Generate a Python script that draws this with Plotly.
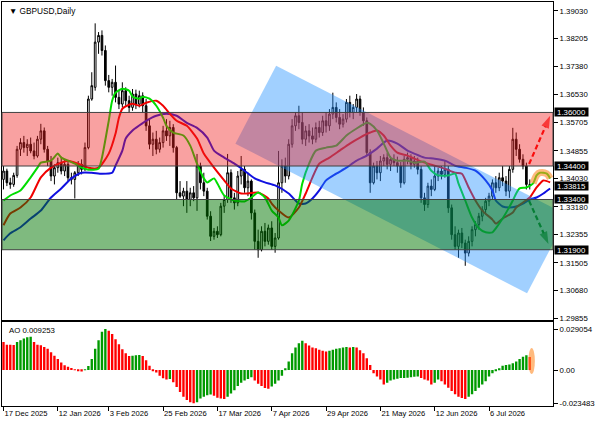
import plotly.graph_objects as go

# ---------------- data ----------------
opens = [1.3400,1.3425,1.3390,1.3385,1.3412,1.3490,1.3510,1.3495,1.3505,1.3485,
         1.3470,1.3520,1.3545,1.3490,1.3455,1.3410,1.3435,1.3450,1.3425,1.3445,
         1.3405,1.3400,1.3420,1.3445,1.3430,1.3495,1.3640,1.3675,1.3810,1.3830,
         1.3785,1.3695,1.3675,1.3690,1.3645,1.3625,1.3665,1.3635,1.3615,1.3655,
         1.3625,1.3650,1.3620,1.3560,1.3505,1.3520,1.3490,1.3510,1.3545,1.3530,
         1.3555,1.3495,1.3360,1.3350,1.3365,1.3340,1.3360,1.3345,1.3440,1.3390,
         1.3365,1.3290,1.3230,1.3245,1.3235,1.3320,1.3340,1.3420,1.3345,1.3330,
         1.3410,1.3430,1.3375,1.3395,1.3300,1.3215,1.3190,1.3245,1.3215,1.3255,
         1.3200,1.3225,1.3390,1.3440,1.3410,1.3505,1.3560,1.3590,1.3570,1.3520,
         1.3545,1.3530,1.3520,1.3555,1.3540,1.3575,1.3560,1.3595,1.3615,1.3585,
         1.3565,1.3580,1.3630,1.3600,1.3615,1.3640,1.3600,1.3575,1.3480,1.3390,
         1.3440,1.3420,1.3455,1.3465,1.3445,1.3460,1.3450,1.3440,1.3390,1.3460,
         1.3465,1.3445,1.3455,1.3430,1.3345,1.3325,1.3380,1.3370,1.3410,1.3425,
         1.3415,1.3430,1.3315,1.3235,1.3200,1.3240,1.3210,1.3180,1.3215,1.3250,
         1.3265,1.3290,1.3310,1.3335,1.3350,1.3390,1.3375,1.3405,1.3395,1.3365,
         1.3430,1.3520,1.3490,1.3460,1.3440,1.3385]
highs = [1.3440,1.3432,1.3405,1.3420,1.3500,1.3523,1.3530,1.3520,1.3525,1.3510,
         1.3530,1.3566,1.3555,1.3500,1.3470,1.3445,1.3465,1.3468,1.3460,1.3455,
         1.3420,1.3425,1.3455,1.3460,1.3510,1.3650,1.3720,1.3866,1.3840,1.3845,
         1.3800,1.3712,1.3700,1.3740,1.3665,1.3690,1.3675,1.3650,1.3670,1.3668,
         1.3665,1.3660,1.3640,1.3580,1.3540,1.3545,1.3525,1.3560,1.3580,1.3575,
         1.3565,1.3500,1.3395,1.3375,1.3395,1.3375,1.3380,1.3476,1.3450,1.3420,
         1.3375,1.3305,1.3255,1.3260,1.3330,1.3350,1.3476,1.3430,1.3360,1.3425,
         1.3470,1.3440,1.3420,1.3400,1.3310,1.3250,1.3260,1.3270,1.3265,1.3275,
         1.3240,1.3485,1.3460,1.3465,1.3520,1.3580,1.3600,1.3620,1.3600,1.3560,
         1.3565,1.3555,1.3570,1.3575,1.3590,1.3600,1.3610,1.3659,1.3630,1.3610,
         1.3595,1.3640,1.3650,1.3625,1.3655,1.3650,1.3615,1.3585,1.3490,1.3450,
         1.3455,1.3470,1.3475,1.3480,1.3470,1.3475,1.3468,1.3452,1.3470,1.3480,
         1.3475,1.3470,1.3465,1.3440,1.3360,1.3390,1.3400,1.3440,1.3435,1.3440,
         1.3455,1.3440,1.3325,1.3260,1.3250,1.3255,1.3220,1.3230,1.3260,1.3275,
         1.3300,1.3320,1.3345,1.3360,1.3400,1.3410,1.3420,1.3440,1.3410,1.3440,
         1.3554,1.3540,1.3505,1.3475,1.3450,1.3400]
lows = [1.3370,1.3380,1.3372,1.3378,1.3405,1.3470,1.3480,1.3470,1.3478,1.3460,
        1.3465,1.3505,1.3480,1.3440,1.3395,1.3385,1.3420,1.3415,1.3410,1.3395,
        1.3385,1.3343,1.3410,1.3415,1.3425,1.3490,1.3635,1.3665,1.3775,1.3770,
        1.3680,1.3660,1.3650,1.3630,1.3610,1.3615,1.3620,1.3600,1.3605,1.3610,
        1.3615,1.3600,1.3545,1.3490,1.3470,1.3475,1.3480,1.3495,1.3515,1.3500,
        1.3480,1.3340,1.3345,1.3320,1.3300,1.3320,1.3335,1.3306,1.3370,1.3350,
        1.3280,1.3216,1.3220,1.3225,1.3230,1.3300,1.3330,1.3330,1.3310,1.3320,
        1.3385,1.3360,1.3350,1.3280,1.3190,1.3166,1.3185,1.3200,1.3205,1.3190,
        1.3181,1.3220,1.3360,1.3390,1.3400,1.3495,1.3545,1.3550,1.3505,1.3500,
        1.3510,1.3505,1.3510,1.3525,1.3530,1.3540,1.3545,1.3580,1.3570,1.3550,
        1.3555,1.3570,1.3585,1.3580,1.3600,1.3590,1.3560,1.3470,1.3360,1.3385,
        1.3400,1.3395,1.3440,1.3430,1.3425,1.3440,1.3420,1.3375,1.3385,1.3445,
        1.3430,1.3435,1.3415,1.3330,1.3306,1.3315,1.3350,1.3365,1.3395,1.3400,
        1.3405,1.3300,1.3220,1.3190,1.3166,1.3195,1.3142,1.3170,1.3200,1.3230,
        1.3250,1.3275,1.3295,1.3320,1.3340,1.3360,1.3365,1.3380,1.3350,1.3345,
        1.3420,1.3470,1.3450,1.3430,1.3370,1.3370]
closes = [1.3425,1.3390,1.3385,1.3412,1.3490,1.3510,1.3495,1.3505,1.3485,1.3470,
          1.3520,1.3545,1.3490,1.3455,1.3410,1.3435,1.3450,1.3425,1.3445,1.3405,
          1.3400,1.3420,1.3445,1.3430,1.3495,1.3640,1.3680,1.3810,1.3830,1.3785,
          1.3695,1.3675,1.3690,1.3645,1.3625,1.3665,1.3635,1.3615,1.3655,1.3625,
          1.3650,1.3620,1.3560,1.3505,1.3520,1.3490,1.3510,1.3545,1.3530,1.3555,
          1.3495,1.3360,1.3350,1.3365,1.3340,1.3360,1.3345,1.3440,1.3390,1.3365,
          1.3290,1.3230,1.3245,1.3235,1.3320,1.3340,1.3420,1.3345,1.3330,1.3410,
          1.3430,1.3375,1.3395,1.3300,1.3215,1.3190,1.3245,1.3215,1.3255,1.3200,
          1.3225,1.3390,1.3440,1.3410,1.3505,1.3560,1.3590,1.3570,1.3520,1.3545,
          1.3530,1.3520,1.3555,1.3540,1.3575,1.3560,1.3595,1.3615,1.3585,1.3565,
          1.3580,1.3630,1.3600,1.3615,1.3640,1.3600,1.3575,1.3480,1.3390,1.3440,
          1.3420,1.3455,1.3465,1.3445,1.3460,1.3450,1.3440,1.3390,1.3460,1.3465,
          1.3445,1.3455,1.3430,1.3345,1.3325,1.3380,1.3370,1.3410,1.3425,1.3415,
          1.3430,1.3315,1.3235,1.3200,1.3240,1.3210,1.3180,1.3215,1.3250,1.3265,
          1.3290,1.3310,1.3335,1.3350,1.3390,1.3375,1.3405,1.3395,1.3365,1.3430,
          1.3520,1.3490,1.3460,1.3440,1.3385,1.33815]

# Alligator lines: bar position / price
jaw_x = [0,2,5,8,11,14,17,20,23,26,29,32,33,35,36,38,39,42,45,48,51,54,57,60,62,65,68,71,74,77,
         80,84,87,89,91,93,95,98,101,104,107,110,113,116,119,121,124,127,130,133,136,139,142,144,145,
         147,149,151,153,155,157,159,161]
jaw_y = [1.3218,1.3239,1.3257,1.3283,1.3307,1.3346,1.3373,1.3403,1.3420,1.3420,1.3417,1.3420,1.3441,
         1.3486,1.3522,1.3546,1.3554,1.3575,1.3590,1.3596,1.3590,1.3569,1.3554,1.3525,1.3486,1.3465,
         1.3447,1.3426,1.3403,1.3391,1.3382,1.3358,1.3328,1.3328,1.3343,1.3367,1.3397,1.3417,1.3435,
         1.3456,1.3471,1.3492,1.3516,1.3507,1.3486,1.3477,1.3465,1.3462,1.3456,1.3441,1.3435,1.3426,
         1.3397,1.3367,1.3337,1.3319,1.3316,1.3319,1.3328,1.3340,1.3346,1.3358,1.3373]
teeth_x = [0,2,5,8,11,14,17,19,22,25,28,31,33,34,35,37,38,40,42,45,47,49,51,54,57,59,62,65,67,70,
           72,75,78,79,81,84,87,89,91,93,96,99,102,105,108,110,112,114,116,119,121,124,127,130,133,
           135,137,139,141,144,145,147,150,151,153,155,157,159,161]
teeth_y = [1.3263,1.3298,1.3316,1.3346,1.3406,1.3435,1.3450,1.3456,1.3447,1.3435,1.3435,1.3477,1.3537,
           1.3584,1.3611,1.3623,1.3626,1.3620,1.3629,1.3635,1.3620,1.3596,1.3575,1.3560,1.3522,1.3477,
           1.3435,1.3397,1.3373,1.3358,1.3358,1.3361,1.3343,1.3328,1.3307,1.3286,1.3316,1.3358,1.3406,
           1.3447,1.3465,1.3486,1.3507,1.3525,1.3540,1.3546,1.3531,1.3501,1.3480,1.3471,1.3462,1.3450,
           1.3441,1.3432,1.3420,1.3417,1.3376,1.3337,1.3307,1.3280,1.3268,1.3283,1.3301,1.3316,1.3331,
           1.3346,1.3376,1.3397,1.3391]
lips_x = [0,2,5,8,10,11,14,16,17,19,21,23,25,28,29,31,32,33,35,37,38,40,41,43,45,47,48,50,53,55,
          57,59,60,62,63,65,68,71,73,75,77,79,81,82,84,87,88,90,92,95,98,101,104,107,108,110,112,114,
          116,119,121,124,126,128,131,133,134,136,138,140,142,144,145,147,150,151,152,154,156,157,158,
          160,161]
lips_y = [1.3337,1.3352,1.3367,1.3406,1.3435,1.3450,1.3456,1.3477,1.3465,1.3456,1.3447,1.3435,1.3429,
          1.3432,1.3465,1.3575,1.3635,1.3659,1.3671,1.3665,1.3647,1.3641,1.3647,1.3641,1.3620,1.3584,
          1.3560,1.3540,1.3531,1.3501,1.3447,1.3403,1.3391,1.3403,1.3388,1.3352,1.3337,1.3334,1.3346,
          1.3361,1.3346,1.3307,1.3286,1.3263,1.3277,1.3337,1.3388,1.3447,1.3486,1.3495,1.3501,1.3531,
          1.3552,1.3569,1.3566,1.3546,1.3507,1.3465,1.3456,1.3456,1.3450,1.3453,1.3426,1.3412,1.3412,
          1.3417,1.3388,1.3337,1.3286,1.3254,1.3242,1.3242,1.3254,1.3283,1.3337,1.3358,1.3373,1.3376,
          1.3388,1.3412,1.3420,1.3417,1.3403]

ao = [0.0199,0.0180,0.0179,0.0178,0.0199,0.0211,0.0224,0.0233,0.0236,0.0199,
      0.0180,0.0175,0.0163,0.0151,0.0126,0.0102,0.0078,0.0053,0.0034,0.0024,
      0.0015,0.0005,-0.0002,-0.0010,0.0005,0.0029,0.0078,0.0151,0.0211,0.0272,
      0.02905,0.0278,0.0255,0.0219,0.0183,0.0148,0.0119,0.0100,0.0102,0.0105,
      0.0107,0.0100,0.0070,0.0030,-0.0005,-0.0018,-0.0041,-0.0059,-0.0068,-0.0064,
      -0.0087,-0.0121,-0.0155,-0.0189,-0.0212,-0.0228,-0.02348,-0.0228,-0.0201,-0.0189,
      -0.0178,-0.0173,-0.0182,-0.0196,-0.0201,-0.0205,-0.0189,-0.0166,-0.0144,-0.0114,
      -0.0091,-0.0075,-0.0064,-0.0052,-0.0075,-0.0098,-0.0114,-0.0128,-0.0132,-0.0116,
      -0.0098,-0.0075,-0.0040,0.0012,0.0060,0.0119,0.0160,0.0190,0.0207,0.0190,
      0.0174,0.0159,0.0155,0.0143,0.0136,0.0131,0.0136,0.0143,0.0150,0.0155,
      0.0159,0.0164,0.0160,0.0163,0.0160,0.0140,0.0119,0.0083,0.0036,-0.0023,
      -0.0046,-0.0068,-0.0103,-0.0091,-0.0075,-0.0068,-0.0062,-0.0057,-0.0056,-0.0055,
      -0.0052,-0.0048,-0.0046,-0.0057,-0.0068,-0.0075,-0.0103,-0.0091,-0.0068,-0.0080,
      -0.0103,-0.0125,-0.0148,-0.0171,-0.0189,-0.0198,-0.0205,-0.0189,-0.0171,-0.0148,
      -0.0125,-0.0103,-0.0080,-0.0046,-0.0023,-0.0007,0.0012,0.0031,0.0036,0.0040,
      0.0048,0.0060,0.0079,0.0095,0.0105,0.009253]

price_ticks = [1.39030,1.38205,1.37380,1.36530,1.35705,1.34855,1.34030,1.33180,1.32355,1.31505,1.30680,1.29855]
price_tick_text = ["1.39030","1.38205","1.37380","1.36530","1.35705","1.34855","1.34030","1.33180",
                   "1.32355","1.31505","1.30680","1.29855"]
level_values = [1.36000, 1.34400, 1.33815, 1.33400, 1.31900]
level_text = ["1.36000", "1.34400", "1.33815", "1.33400", "1.31900"]
ao_ticks = [0.029054, 0.0, -0.023483]
ao_tick_text = ["0.029054", "0.00", "-0.023483"]
date_bars = [0, 16, 31, 47, 63, 79, 95, 111, 127, 143]
date_labels = ["17 Dec 2025", "12 Jan 2026", "3 Feb 2026", "25 Feb 2026", "17 Mar 2026",
               "7 Apr 2026", "29 Apr 2026", "21 May 2026", "12 Jun 2026", "6 Jul 2026"]

# ---------------- figure ----------------
FONT = "Liberation Sans"
W, H = 596, 425
ML, MR, MT, MB = 2, 39, 1, 19
plot_h = H - MT - MB


def yfrac(py):
    return (H - MB - py) / plot_h


main_dom = [yfrac(319.5), yfrac(1.5)]
ao_dom = [0, yfrac(322)]

bars = list(range(len(closes)))
fig = go.Figure()

fig.add_trace(go.Candlestick(
    x=bars, open=opens, high=highs, low=lows, close=closes,
    increasing=dict(line=dict(color="#000000", width=1), fillcolor="#ffffff"),
    decreasing=dict(line=dict(color="#000000", width=1), fillcolor="#000000"),
    whiskerwidth=0, xaxis="x", yaxis="y", showlegend=False, hoverinfo="skip"))

for xs, ys, col in [(jaw_x, jaw_y, "#1010e0"), (teeth_x, teeth_y, "#f00000"), (lips_x, lips_y, "#00dd00")]:
    fig.add_trace(go.Scatter(x=xs, y=ys, mode="lines", xaxis="x", yaxis="y",
                             line=dict(color=col, width=2, shape="spline", smoothing=0.6),
                             showlegend=False, hoverinfo="skip"))

# orange highlight on the end of the lips line
fig.add_trace(go.Scatter(x=lips_x[-5:], y=lips_y[-5:], mode="lines", xaxis="x", yaxis="y",
                         line=dict(color="rgba(255,140,40,0.6)", width=7, shape="spline"),
                         showlegend=False, hoverinfo="skip"))

# forecast arrows
for (xa, ya, col) in [([154.8, 161.0], [1.3446, 1.3590], "#ff0000"),
                      ([154.8, 160.5], [1.3336, 1.3207], "#008000")]:
    fig.add_trace(go.Scatter(x=xa, y=ya, mode="lines+markers", xaxis="x", yaxis="y",
                             line=dict(color=col, width=2.2, dash="5px,3px"),
                             marker=dict(symbol="arrow", size=[0, 13], angleref="previous", color=col,
                                         line=dict(width=0)),
                             showlegend=False, hoverinfo="skip"))

ao_colors = ["#ff0000"] + ["#009a00" if ao[i] > ao[i - 1] else "#ff0000" for i in range(1, len(ao))]
fig.add_trace(go.Bar(x=bars, y=ao, marker=dict(color=ao_colors, line=dict(width=0)),
                     xaxis="x2", yaxis="y2", showlegend=False, hoverinfo="skip"))

shapes = [
    dict(type="path", xref="x", yref="y", layer="above",
         path="M 68.3,1.35068 L 80.3,1.37392 L 166.2,1.32923 L 154.2,1.30600 Z",
         fillcolor="rgba(30,144,255,0.42)", line=dict(width=0)),
    dict(type="rect", xref="paper", yref="y", x0=0, x1=1, y0=1.344, y1=1.360, layer="above",
         fillcolor="rgba(240,30,30,0.42)", line=dict(color="#404040", width=1)),
    dict(type="rect", xref="paper", yref="y", x0=0, x1=1, y0=1.319, y1=1.334, layer="above",
         fillcolor="rgba(0,118,0,0.5)", line=dict(color="#404040", width=1)),
    dict(type="circle", xref="x2", yref="y2", x0=154.6, x1=156.5, y0=-0.0028, y1=0.0156, layer="above",
         fillcolor="rgba(255,140,40,0.6)", line=dict(width=0)),
]

annotations = [
    dict(xref="paper", yref="paper", x=0, y=1, xanchor="left", yanchor="top", xshift=5, yshift=-2,
         text="▼ GBPUSD,Daily", showarrow=False, font=dict(family=FONT, size=8.3, color="#000000")),
    dict(xref="paper", yref="paper", x=0, y=ao_dom[1], xanchor="left", yanchor="top", xshift=5, yshift=-2,
         text="AO 0.009253", showarrow=False, font=dict(family=FONT, size=7.8, color="#000000")),
]
for v, t in zip(level_values, level_text):
    annotations.append(dict(xref="paper", yref="y", x=1, y=v, xanchor="left", yanchor="middle", xshift=1,
                            text=t, showarrow=False, bgcolor="#000000", width=33, height=8, borderpad=0,
                            font=dict(family=FONT, size=7.8, color="#ffffff")))

axis_common = dict(showline=True, mirror=True, linecolor="#000000", linewidth=1,
                   showgrid=False, zeroline=False)
tick_font = dict(family=FONT, size=7.8, color="#000000")

fig.update_layout(
    width=W, height=H, margin=dict(l=ML, r=MR, t=MT, b=MB),
    paper_bgcolor="#ffffff", plot_bgcolor="#ffffff",
    hovermode=False, bargap=0.3, showlegend=False,
    shapes=shapes, annotations=annotations,
    xaxis=dict(domain=[0, 1], anchor="y", range=[-0.44, 161.84], showticklabels=False, ticks="",
               rangeslider=dict(visible=False), **axis_common),
    yaxis=dict(domain=main_dom, anchor="x", side="right", range=[1.29810, 1.39283],
               tickvals=price_ticks, ticktext=price_tick_text, ticks="outside", ticklen=4,
               tickcolor="#000000", tickfont=tick_font, **axis_common),
    xaxis2=dict(domain=[0, 1], anchor="y2", matches="x", tickvals=date_bars, ticktext=date_labels,
                ticks="outside", ticklen=4, tickcolor="#000000", ticklabelposition="outside right",
                tickfont=dict(family=FONT, size=7.6, color="#000000"), **axis_common),
    yaxis2=dict(domain=ao_dom, anchor="x2", side="right", range=[-0.0255, 0.0339],
                tickvals=ao_ticks, ticktext=ao_tick_text, ticks="outside", ticklen=4,
                tickcolor="#000000", tickfont=tick_font, **axis_common),
)

fig.write_html("out.html")
